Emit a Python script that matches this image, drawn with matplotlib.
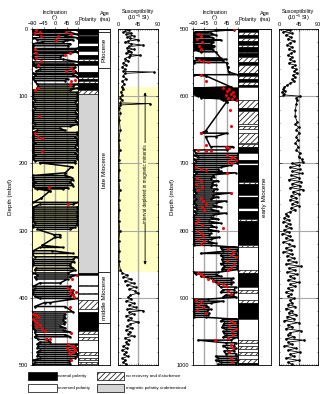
import matplotlib
matplotlib.use('Agg')
import matplotlib.pyplot as plt
import matplotlib.patches as mpatches
from matplotlib.ticker import MultipleLocator

plt.rcParams['font.family'] = ['Liberation Sans', 'DejaVu Sans']
plt.rcParams['mathtext.default'] = 'regular'
plt.rcParams['hatch.linewidth'] = 0.5

# ---- inclination (streaks: depth, min and max inclination) ----
inc_depth_L = [1, 3, 5, 8, 10, 13, 16, 19, 22, 25, 29, 31, 34, 36, 39, 42, 45, 49, 52, 54,
               57, 60, 63, 66, 68, 71, 74, 77, 82, 85, 88, 91, 94, 97,
               100, 103, 106, 109, 112, 115, 118, 121, 124, 127, 130, 133, 136, 139, 142, 145,
               148, 151, 154, 157, 160, 163, 166, 169, 172, 175, 178, 181, 184, 187, 190, 193, 196, 199,
               205, 214, 218, 221, 224, 227, 230, 233, 236, 238, 241, 252, 258, 261,
               265, 268, 271, 274, 277, 280, 283, 286, 289, 292, 295, 298, 306, 310, 322,
               325, 330, 334, 339, 343, 346, 349, 352, 356, 359, 363, 366, 369, 372, 378, 383,
               386, 389, 392, 395, 398, 401, 407, 413,
               421, 424, 427, 430, 433, 436, 439, 442, 445, 448, 451, 455, 458, 462, 466, 469,
               472, 475, 478, 481, 484, 487, 490, 493, 496, 499]
inc_lo_L = [-85, -88, -80, -85, -60, -85, -70, -50, -85, -88, -88, -85, -88, -70, -85, -88, -80, -88, -85, -88,
            -75, -60, -75, -85, -80, -85, -88, -80, -70, -65, -70, -85, -85, -88,
            -85, -88, -80, -88, -85, -88, -80, -88, -85, -88, -85, -88, -85, -88, -80, -88,
            -85, -70, -88, -85, -88, -85, -88, -80, -88, -85, -88, -85, -88, -80, -88, -85, -80, -60,
            65, 40, -85, -88, -85, -80, -88, -85, -80, -70, -20, -55, -85, -60,
            -85, -88, -85, -88, -85, -88, -85, -88, -80, -88, -85, -70, -5, 0, -50,
            -60, -85, -90, -80, -85, -88, -85, -90, -75, -80, -85, -70, -80, -75, -60, -85,
            -80, -88, -85, -88, -80, -60, -40, -80,
            -90, -88, -90, -85, -90, -88, -90, -85, -88, -80, -80, -75, -80, -65, -60, -70,
            -65, -70, -60, -70, -65, -70, -60, -85, -80, -85]
inc_hi_L = [85, 30, 60, 88, 40, 88, 70, 30, 60, 50, 88, 80, 88, 60, 30, 20, 30, 90, 70, 90,
            80, 70, 80, 88, 70, 88, 50, 40, 88, 70, 88, 60, 85, 88,
            85, 88, 85, 80, 88, 85, 88, 85, 80, 88, 85, 88, 80, 88, 85, 60,
            20, 40, 85, 88, 80, 88, 85, 88, 85, 80, 88, 85, 80, 88, 85, 88, 80, 80,
            65, 40, 40, 65, 70, 60, 65, 70, 50, 30, -20, -55, 90, 70,
            88, 90, 85, 90, 88, 85, 90, 88, 85, 88, 80, 60, 20, 20, -50,
            30, -10, 70, 85, 70, 75, 60, 60, 70, 80, 50, 88, 60, 50, 20, 60,
            55, 70, 65, 70, 60, 90, -20, 40,
            70, 40, 35, 40, 30, 40, 35, 20, 40, 30, 60, 40, 60, -30, -20, 85,
            80, 88, 85, 80, 88, 85, 80, 60, 55, 60]

inc_depth_R = [501, 504, 506, 509, 511, 513, 516, 518, 520, 523,
               525, 527, 529, 531, 534, 543, 545, 547, 550, 557,
               564, 568, 570, 586, 588, 590, 592, 594, 596, 598,
               600, 602, 604, 606, 608, 652, 655, 660, 675, 680,
               685, 688, 691, 694, 697, 700, 703, 706, 709, 712,
               714, 717, 720, 723, 726, 729, 732, 735, 738, 741,
               744, 747, 750, 753, 756, 759, 762, 765, 768, 771,
               774, 777, 780, 783, 786, 789, 792, 795, 798, 801,
               804, 807, 810, 813, 816, 819, 822, 825, 828, 831,
               834, 837, 840, 843, 846, 849, 852, 855, 858, 862,
               865, 868, 871, 874, 877, 880, 884, 888, 892, 896,
               899, 902, 905, 908, 911, 914, 917, 920, 923, 926,
               929, 932, 935, 938, 941, 944, 947, 950, 953, 956,
               959, 963, 967, 971, 975, 979, 983, 987, 990, 993,
               996, 999]
inc_lo_R = [0, -80, -88, -88, -85, -88, -88, -85, -88, -85,
            -88, -88, -80, -88, -60, -80, -75, -88, -88, 48,
            52, -85, -37, 60, -85, -80, -88, -85, -88, -80,
            -70, -60, 20, 30, 45, -40, -60, -40, -20, -85,
            -80, -85, -70, -85, -80, -85, -88, -90, -88, -85,
            -80, -88, -90, -85, -90, -88, -85, -90, -88, -85,
            -80, -88, -85, -80, -85, -88, -80, -85, -75, -85,
            -80, -88, -90, -88, -90, -85, -90, -88, -90, -85,
            -90, -88, -90, -85, -90, -88, -85, 20, 25, 30,
            -60, 20, 30, 25, 30, 20, 35, 30, 25, -85,
            -80, -60, -20, -10, 0, 10, 20, 30, 20, 40,
            30, -90, -88, -90, -85, -90, -88, -90, -85, -90,
            -88, 30, 20, 35, 30, 25, 40, 30, 35, 40,
            30, -70, 40, 30, 45, 35, 40, 0, 10, 0,
            20, 10]
inc_hi_R = [75, -40, -20, 0, -30, -10, 20, -20, -10, -20,
            -5, -10, -20, -10, 0, 20, 40, 30, 45, 48,
            52, 88, -37, 60, 88, 90, 85, 90, 88, 90,
            85, 90, 88, 80, 45, -40, 45, 0, 70, 45,
            88, 90, 85, 88, 90, 85, 60, 20, 10, 20,
            80, -10, -5, -20, 10, -15, 0, -20, 5, -10,
            60, -10, 10, -20, 40, 0, -10, 20, -20, 10,
            40, -10, -20, 10, -25, 20, -20, 0, -30, 10,
            -20, -25, 15, -20, -30, 0, -20, 88, 90, 85,
            80, 88, 90, 85, 90, 88, 90, 85, 88, 10,
            0, 20, 70, 60, 70, 60, 80, 75, 80, 70,
            80, -30, 30, -20, -40, -30, -20, -35, -25, -30,
            -40, 88, 90, 85, 90, 88, 90, 85, 88, 90,
            85, 60, 80, 75, 80, 75, 80, 85, 80, 88,
            85, 80]

# ---- discrete samples (red) ----
red_depth_L = [1, 4, 5, 6, 7, 10, 10, 17, 30, 36, 36, 38, 43, 48, 53, 58, 62, 63, 76, 78,
               83, 88, 91, 130, 155, 160, 162, 182, 235, 260, 366, 372, 386, 388, 391, 393, 396, 399, 413, 424,
               426, 428, 431, 434, 437, 440, 443, 446, 449, 453, 461, 462, 469, 471, 473, 475, 477, 479, 481, 483,
               493]
red_inc_L = [-73, 44, -60, -80, 64, -53, 12, 5, -80, -73, 57, 38, -73, -53, -66, 64, 70, 44, 77, 64,
             57, -66, -80, -62, -77, -66, -51, -51, -25, 51, 88, 65, 51, 64, 83, 57, 70, 75, 57, -85,
             -75, -65, -88, -80, -70, -60, -75, -50, -40, 64, -34, -21, 50, 65, 75, 45, 80, 55, 70, 60,
             64]
red_depth_R = [500, 508, 511, 515, 520, 525, 530, 546, 548, 549, 568, 578, 588, 590, 592, 594, 596, 598, 600, 602,
               604, 606, 620, 645, 655, 672, 675, 677, 680, 681, 682, 687, 690, 692, 695, 698, 700, 706, 708, 710,
               714, 722, 726, 730, 735, 740, 744, 752, 756, 760, 765, 770, 784, 788, 792, 796, 800, 804, 808, 812,
               816, 820, 828, 832, 836, 840, 845, 850, 855, 858, 863, 865, 867, 872, 875, 878, 880, 882, 890, 895,
               903, 906, 910, 914, 918, 922, 935, 938, 942, 946, 950, 955, 960, 963, 970, 975, 980, 990, 995]
red_inc_R = [73, -70, -60, -75, -55, -65, -60, -66, -50, -30, -57, -40, 30, 55, 45, 70, 60, 40, 75, 50,
             65, 84, 57, 62, -57, -40, 40, 55, -70, -40, -20, 45, 70, 60, 80, 50, 65, -80, -60, -40,
             45, -75, -60, -80, -55, -70, 60, -60, -50, -40, -55, -45, -70, -80, -55, 30, -75, -60, -50, -70,
             -45, -60, 50, 70, 60, 80, 45, 75, 60, 50, -70, -60, -50, -30, -10, 10, 30, 40, 50, 60,
             -80, -60, -70, -50, -75, -40, 60, 75, 55, 80, 65, 70, 50, -3, 60, 70, 55, 60, 65]

# ---- susceptibility (10^-5 SI) ----
sus_depth_L = [0, 2, 4, 6, 8, 10, 12, 14, 16, 18, 20, 22, 24, 26, 28, 30, 32, 34, 36, 38,
               39, 41, 44, 47, 50, 53, 56, 60, 63, 64, 66, 70, 74, 78, 82, 86, 90, 94, 98, 102,
               106, 110, 111, 113, 118, 125, 135, 150, 165, 180, 195, 210, 225, 240, 255, 270, 285, 300, 315, 330,
               345, 358, 363, 366, 369, 372, 375, 378, 381, 384, 387, 390, 393, 396, 399, 402, 405, 408, 411, 414,
               417, 419, 421, 424, 427, 430, 433, 436, 439, 442, 445, 448, 451, 454, 457, 460, 463, 466, 469, 472,
               475, 478, 481, 484, 487, 490, 493, 496, 499]
sus_L = [16, 25, 12, 30, 18, 35, 20, 28, 46, 22, 15, 30, 57, 25, 20, 35, 22, 30, 18, 28,
         50, 25, 15, 22, 12, 18, 10, 15, 12, 80, 15, 12, 18, 10, 14, 8, 12, 6, 10, 5,
         8, 4, 72, 5, 3, 5, 3, 5, 2, 4, 2, 3, 2, 4, 2, 3, 2, 4, 2, 3,
         2, 5, 10, 20, 12, 30, 15, 35, 20, 40, 25, 38, 45, 28, 22, 30, 18, 35, 25, 40,
         20, 57, 25, 35, 18, 30, 22, 46, 28, 20, 32, 18, 28, 22, 35, 15, 25, 18, 22, 12,
         20, 10, 18, 14, 22, 10, 16, 12, 18]
sus_depth_R = [500, 502, 504, 506, 509, 512, 515, 518, 521, 524, 527, 530, 533, 536, 539, 542, 545, 548, 551, 554,
               557, 560, 563, 566, 569, 572, 575, 578, 581, 584, 587, 590, 592, 594, 596, 598, 600, 603, 606, 612,
               620, 630, 638, 642, 646, 650, 655, 660, 665, 670, 675, 680, 685, 690, 694, 698, 700, 703, 706, 709,
               712, 715, 718, 721, 724, 727, 730, 733, 736, 739, 742, 745, 748, 751, 754, 757, 760, 763, 766, 769,
               772, 775, 778, 781, 784, 787, 790, 793, 796, 799, 802, 805, 808, 811, 814, 817, 820, 823, 826, 829,
               832, 835, 838, 841, 844, 847, 850, 853, 856, 859, 862, 865, 868, 871, 874, 877, 880, 883, 886, 889,
               892, 895, 898, 901, 904, 907, 910, 913, 916, 919, 922, 925, 928, 931, 934, 937, 940, 943, 946, 949,
               952, 955, 958, 961, 963, 966, 969, 972, 975, 978, 981, 984, 987, 990, 993, 996, 999]
sus_R = [5, 25, 10, 30, 15, 28, 20, 35, 25, 18, 30, 22, 35, 28, 20, 30, 25, 35, 22, 38,
         30, 40, 35, 42, 32, 38, 30, 35, 25, 18, 12, 10, 14, 8, 12, 10, 48, 40, 42, 40,
         38, 37, 42, 38, 45, 40, 47, 40, 43, 38, 44, 40, 48, 45, 52, 55, 30, 45, 25, 48,
         30, 52, 28, 45, 22, 50, 30, 48, 25, 55, 32, 45, 28, 40, 25, 42, 30, 45, 28, 38,
         25, 15, 20, 12, 22, 10, 25, 15, 28, 12, 22, 8, 25, 15, 30, 10, 22, 35, 15, 28,
         10, 30, 18, 35, 20, 40, 15, 50, 22, 38, 18, 42, 25, 35, 20, 45, 25, 38, 20, 30,
         15, 28, 20, 35, 25, 30, 20, 38, 15, 30, 22, 40, 18, 35, 12, 45, 20, 30, 15, 50,
         25, 20, 35, 15, 58, 20, 30, 12, 40, 20, 48, 25, 35, 15, 45, 20, 30]

# ---- polarity intervals (top, bottom, kind) n=normal r=reversed h=no recovery u=undetermined ----
pol_top_L = [0, 9, 10, 21, 25, 32, 38, 44, 47, 54, 64, 72, 75, 78, 81, 91, 96, 363, 366, 381,
             383, 393, 395, 404, 416, 421, 450, 454, 459, 463, 481, 485, 489, 492, 495, 498]
pol_bot_L = [9, 10, 21, 25, 32, 38, 44, 47, 54, 64, 72, 75, 78, 81, 91, 96, 363, 366, 381, 383,
             393, 395, 404, 416, 421, 450, 454, 459, 463, 481, 485, 489, 492, 495, 498, 500]
pol_kind_L = ['n', 'r', 'n', 'r', 'n', 'r', 'n', 'h', 'n', 'r', 'n', 'h', 'n', 'h', 'n', 'h', 'u', 'n', 'r', 'h',
              'r', 'h', 'r', 'h', 'r', 'n', 'h', 'r', 'h', 'r', 'h', 'r', 'h', 'r', 'h', 'r']
pol_top_R = [500, 504, 509, 513, 518, 524, 527, 534, 536, 541, 549, 554, 566, 570, 575, 579, 583, 587, 606, 618,
             622, 641, 645, 649, 655, 670, 671, 676, 685, 695, 700, 702, 728, 730, 747, 750, 766, 771, 782, 786,
             821, 824, 859, 863, 884, 888, 893, 903, 908, 931, 963, 968, 972, 976, 981, 985, 991, 997]
pol_bot_R = [504, 509, 513, 518, 524, 527, 534, 536, 541, 549, 554, 566, 570, 575, 579, 583, 587, 606, 618, 622,
             641, 645, 649, 655, 670, 671, 676, 685, 695, 700, 702, 728, 730, 747, 750, 766, 771, 782, 786, 821,
             824, 859, 863, 884, 888, 893, 903, 908, 931, 963, 968, 972, 976, 981, 985, 991, 997, 1000]
pol_kind_R = ['n', 'h', 'n', 'h', 'n', 'h', 'n', 'h', 'n', 'h', 'n', 'h', 'n', 'h', 'n', 'h', 'n', 'r', 'h', 'n',
              'h', 'r', 'h', 'r', 'h', 'r', 'h', 'n', 'r', 'n', 'r', 'n', 'h', 'n', 'r', 'n', 'r', 'n', 'h', 'n',
              'h', 'r', 'h', 'n', 'r', 'h', 'r', 'h', 'n', 'r', 'h', 'r', 'h', 'r', 'h', 'r', 'h', 'n']

# ---- ages ----
age_top_L = [0, 5, 58, 362, 437]
age_bot_L = [5, 58, 362, 437, 500]
age_name_L = ['', 'Pliocene', 'late Miocene', 'middle Miocene', '']
age_top_R = [500]
age_bot_R = [1000]
age_name_R = ['early Miocene']

depleted_top, depleted_bot = 87, 362

W, H = 326, 394
FS = 4
YELLOW = '#ffffc4'
GRID = '#a8a8a8'
POL_COLORS = {'n': 'black', 'r': 'white', 'h': 'white', 'u': '#d4d4d4'}

fig = plt.figure(figsize=(W / 100, H / 100), dpi=100)


def add_ax(x0, x1, y0=29, y1=365):
    return fig.add_axes([x0 / W, 1 - y1 / H, (x1 - x0) / W, (y1 - y0) / H])


def ftext(x, y, s, **kw):
    kw.setdefault('fontsize', FS)
    kw.setdefault('ha', 'center')
    kw.setdefault('va', 'center')
    fig.text(x / W, 1 - y / H, s, **kw)


def serpentine(depth, lo, hi):
    xs, ys = [], []
    for i, (d, a, b) in enumerate(zip(depth, lo, hi)):
        if i % 2:
            a, b = b, a
        xs += [a, b]
        ys += [d, d]
    return xs, ys


def depth_axis(ax, d0, d1, side_ticks='out'):
    ax.set_ylim(d1, d0)
    ax.yaxis.set_major_locator(MultipleLocator(100))
    ax.yaxis.set_minor_locator(MultipleLocator(20))
    for s in ax.spines.values():
        s.set_linewidth(0.6)


def draw_block(x_inc, x_pol, x_age, x_sus, d0, d1, idepth, ilo, ihi, rdep, rinc,
               sdep, sval, ptop, pbot, pkind, atop, abot, aname, shade, ylabel_x):
    # inclination
    ax = add_ax(*x_inc)
    depth_axis(ax, d0, d1)
    ax.set_xlim(-90, 90)
    if shade:
        ax.axhspan(depleted_top, depleted_bot, color=YELLOW, zorder=0, lw=0)
    for v in [-45, 0, 45]:
        ax.axvline(v, color=GRID, lw=1.0, zorder=1)
    for d in range(d0 + 100, d1, 100):
        ax.axhline(d, color=GRID, lw=0.8, zorder=1)
    xs, ys = serpentine(idepth, ilo, ihi)
    ax.plot(xs, ys, color='black', lw=1.1, marker='o', ms=0.8, zorder=2)
    ax.plot(rinc, rdep, 'o', color='#ff0000', ms=2.2, mew=0, zorder=3)
    ax.set_xticks([-90, -45, 0, 45, 90])
    ax.tick_params(axis='x', top=True, bottom=False, labeltop=True, labelbottom=False,
                   labelsize=FS, length=1.5, width=0.4, pad=0.5)
    ax.tick_params(axis='y', which='both', direction='out', labelsize=FS, width=0.4, pad=1)
    ax.tick_params(axis='y', which='major', length=1.8)
    ax.tick_params(axis='y', which='minor', length=1.0)
    ax.set_ylabel('Depth (mbsf)', fontsize=FS + 0.5, labelpad=4)
    ax.yaxis.set_label_coords((ylabel_x - x_inc[0]) / (x_inc[1] - x_inc[0]), 0.5)

    # polarity
    axp = add_ax(*x_pol)
    depth_axis(axp, d0, d1)
    axp.set_xlim(0, 1)
    for t, b, k in zip(ptop, pbot, pkind):
        axp.barh(t, 1, height=b - t, left=0, align='edge', color=POL_COLORS[k],
                 edgecolor='black', lw=0.4, hatch='//////' if k == 'h' else None)
    axp.set_xticks([])
    axp.set_yticks([])
    axp.tick_params(which='both', left=False, right=False)

    # age
    axa = add_ax(*x_age)
    depth_axis(axa, d0, d1)
    axa.set_xlim(0, 1)
    for t, b, name in zip(atop, abot, aname):
        axa.barh(t, 1, height=b - t, left=0, align='edge', color='white', edgecolor='black', lw=0.5)
        if name:
            axa.text(0.5, (t + b) / 2, name, rotation=90, ha='center', va='center', fontsize=4.6)
    axa.set_xticks([])
    axa.set_yticks([])
    axa.tick_params(which='both', left=False, right=False)

    # susceptibility
    axs = add_ax(*x_sus)
    depth_axis(axs, d0, d1)
    axs.set_xlim(0, 90)
    if shade:
        axs.axhspan(depleted_top, depleted_bot, color=YELLOW, zorder=0, lw=0)
    axs.axvline(45, color=GRID, lw=1.0, zorder=1)
    for d in range(d0 + 100, d1, 100):
        axs.axhline(d, color=GRID, lw=0.8, zorder=1)
    axs.plot(sval, sdep, color='black', lw=0.6, marker='o', ms=0.9, zorder=2)
    axs.set_xticks([0, 45, 90])
    axs.xaxis.set_minor_locator(MultipleLocator(5))
    axs.tick_params(axis='x', which='both', top=True, bottom=True, labeltop=True, labelbottom=False,
                    direction='in', labelsize=FS, width=0.4, pad=1.5)
    axs.tick_params(axis='x', which='major', length=1.5)
    axs.tick_params(axis='x', which='minor', length=1.0)
    axs.tick_params(axis='y', which='both', left=True, right=True, labelleft=False,
                    direction='in', width=0.4)
    axs.tick_params(axis='y', which='major', length=1.8)
    axs.tick_params(axis='y', which='minor', length=1.0)
    return ax, axs


ax1, axs1 = draw_block((32, 78), (78, 98), (98, 110), (118, 158), 0, 500,
                       inc_depth_L, inc_lo_L, inc_hi_L, red_depth_L, red_inc_L,
                       sus_depth_L, sus_L, pol_top_L, pol_bot_L, pol_kind_L,
                       age_top_L, age_bot_L, age_name_L, True, 13)
ax2, axs2 = draw_block((193, 238), (238, 258), (258, 271), (279, 318), 500, 1000,
                       inc_depth_R, inc_lo_R, inc_hi_R, red_depth_R, red_inc_R,
                       sus_depth_R, sus_R, pol_top_R, pol_bot_R, pol_kind_R,
                       age_top_R, age_bot_R, age_name_R, False, 175)

# depleted interval arrow
axs1.annotate('', xy=(61, depleted_top + 3), xytext=(61, depleted_bot - 7),
              arrowprops=dict(arrowstyle='<|-|>', lw=0.6, color='black', mutation_scale=4), zorder=3)
axs1.text(61, 230, 'interval depleted in magnetic minerals', rotation=90, ha='center', va='center',
          fontsize=3.3, zorder=4, bbox=dict(facecolor=YELLOW, edgecolor='none', pad=0.6))

# headers
for xi, xp, xa, xs in [(55, 88, 105, 138), (215, 248, 265, 298)]:
    ftext(xi, 12, 'Inclination')
    ftext(xi, 18, '(°)')
    ftext(xp, 20, 'Polarity')
    ftext(xa, 13, 'Age')
    ftext(xa, 20, '(ma)')
    ftext(xs, 11, 'Susceptibility')
    ftext(xs, 18, '(10$^{-5}$ SI)')

# legend
legend_items = [((28, 372), 'n', 'normal polarity'),
                ((28, 384), 'r', 'reversed polarity'),
                ((97, 372), 'h', 'no recovery and disturbance'),
                ((97, 384), 'u', 'magnetic polarity undetermined')]
for (x, y), k, label in legend_items:
    w = 29 if x < 50 else 27
    rect = mpatches.Rectangle((x / W, 1 - (y + 8) / H), w / W, 8 / H, transform=fig.transFigure,
                              facecolor=POL_COLORS[k], edgecolor='black', lw=0.5,
                              hatch='//////' if k == 'h' else None)
    fig.add_artist(rect)
    ftext(x + w + 1.5, y + 4, label, ha='left', fontsize=3.2)

fig.savefig('out.png', dpi=100, facecolor='white')
